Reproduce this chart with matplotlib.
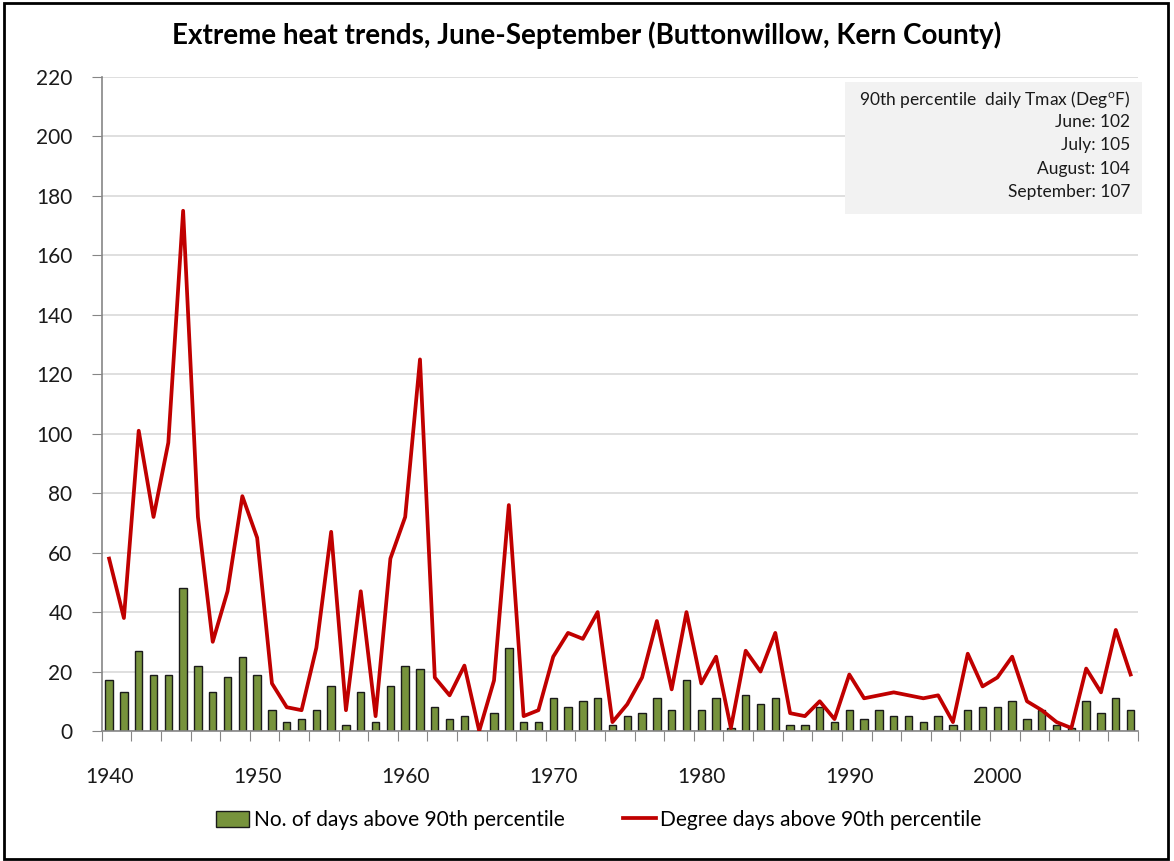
import matplotlib
matplotlib.use("Agg")
import matplotlib.pyplot as plt
from matplotlib.patches import Rectangle
import numpy as np

plt.rcParams['font.family'] = ['Lato', 'DejaVu Sans']

years = list(range(1940, 2010))

# number of days above the 90th percentile Tmax, each season
hot_days = [17, 13, 27, 19, 19, 48, 22, 13, 18, 25,
            19, 7, 3, 4, 7, 15, 2, 13, 3, 15,
            22, 21, 8, 4, 5, 0, 6, 28, 3, 3,
            11, 8, 10, 11, 2, 5, 6, 11, 7, 17,
            7, 11, 1, 12, 9, 11, 2, 2, 8, 3,
            7, 4, 7, 5, 5, 3, 5, 2, 7, 8,
            8, 10, 4, 7, 2, 1, 10, 6, 11, 7]

# degree days above the 90th percentile Tmax, each season
degree_days = [58, 38, 101, 72, 97, 175, 72, 30, 47, 79,
               65, 16, 8, 7, 28, 67, 7, 47, 5, 58,
               72, 125, 18, 12, 22, 0, 17, 76, 5, 7,
               25, 33, 31, 40, 3, 9, 18, 37, 14, 40,
               16, 25, 1, 27, 20, 33, 6, 5, 10, 4,
               19, 11, 12, 13, 12, 11, 12, 3, 26, 15,
               18, 25, 10, 7, 3, 1, 21, 13, 34, 19]

threshold_months = ["June", "July", "August", "September"]
threshold_values = [102, 105, 104, 107]

W, H = 1174, 861
fig = plt.figure(figsize=(W / 100, H / 100), dpi=100)
ax = fig.add_axes([101.7 / W, 1 - 731 / H, (1138 - 101.7) / W, (731 - 77) / H])

x = np.arange(len(years))
bars = ax.bar(x, hot_days, width=0.5, color="#77933C", edgecolor="#1a1a1a",
              linewidth=1.0, zorder=2, label="No. of days above 90th percentile")
line, = ax.plot(x, degree_days, color="#C00000", linewidth=2.7, zorder=3,
                label="Degree days above 90th percentile")

ax.set_xlim(-0.5, len(years) - 0.5)
ax.set_ylim(0, 220)
ax.set_yticks(np.arange(0, 221, 20))
ax.yaxis.grid(True, color="#d9d9d9", linewidth=1.2, zorder=0)
ax.set_axisbelow(True)

# tick marks between categories, labels every ten years
ax.set_xticks(np.arange(-0.5, len(years), 2))
ax.set_xticklabels([])
label_pos = [i for i, y in enumerate(years) if y % 10 == 0]
ax.set_xticks(label_pos, minor=True)
ax.set_xticklabels([str(years[i]) for i in label_pos], minor=True)
ax.tick_params(axis="x", which="major", length=7, color="#868686", direction="out")
ax.tick_params(axis="x", which="minor", length=0, pad=26, labelsize=15, labelcolor="#1a1a1a")
ax.tick_params(axis="y", length=7, color="#868686", direction="out", pad=14,
               labelsize=15, labelcolor="#1a1a1a")

for side in ["top", "right"]:
    ax.spines[side].set_visible(False)
for side in ["left", "bottom"]:
    ax.spines[side].set_color("#868686")
    ax.spines[side].set_linewidth(1.2)

fig.text(0.5, 1 - 35 / H, "Extreme heat trends, June-September (Buttonwillow, Kern County)",
         ha="center", va="center", fontsize=20, fontweight="bold", color="#000000")

# threshold info box
fig.patches.append(Rectangle((845 / W, 1 - 214 / H), (1142 - 845) / W, (214 - 82) / H,
                             transform=fig.transFigure, facecolor="#f2f2f2",
                             edgecolor="none", zorder=1))
info_lines = ["90th percentile  daily Tmax (Deg$^\\mathregular{o}$F)"]
info_lines += [f"{m}: {v}" for m, v in zip(threshold_months, threshold_values)]
for i, txt in enumerate(info_lines):
    fig.text(1130 / W, 1 - (99 + i * 23.2) / H, txt, ha="right", va="center",
             fontsize=12.5, color="#1a1a1a", zorder=2)

fig.legend(handles=[bars, line], loc="center", bbox_to_anchor=(0.51, 1 - 820 / H),
           ncol=2, frameon=False, fontsize=15, handlelength=1.6, handleheight=0.8,
           handletextpad=0.2, columnspacing=2.8)

# chart border
fig.patches.append(Rectangle((4 / W, 1 - 859 / H), (1168 - 4) / W, (859 - 3) / H,
                             transform=fig.transFigure, facecolor="none",
                             edgecolor="#000000", linewidth=2))

fig.savefig("out.png", dpi=100)
